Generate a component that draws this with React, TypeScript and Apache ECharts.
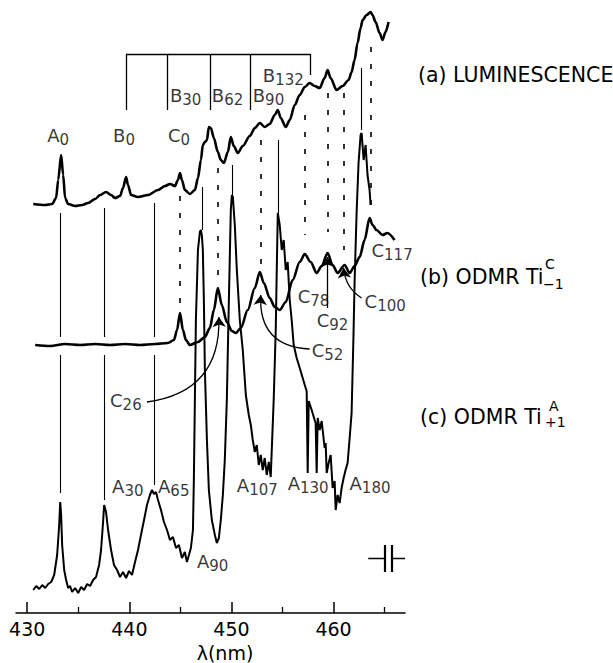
import React, { useEffect, useRef } from "react";
import * as echarts from "echarts";

// wavelength (nm) vs. signal (arbitrary units, offset traces)
const luminescence: [number, number][] = [
  [430.59, 409], [431.76, 408], [432.44, 409], [432.83, 415], [433.03, 433], [433.32, 458], [433.52, 438],
  [433.71, 415], [434.01, 409], [434.69, 407], [435.38, 408], [435.96, 410], [436.65, 414], [437.14, 418],
  [437.72, 421], [438.21, 418], [438.6, 415], [439.09, 417], [439.38, 425], [439.68, 436], [439.87, 428],
  [440.17, 418], [440.85, 416], [441.83, 418], [442.81, 423], [443.49, 427], [443.98, 429], [444.47, 427],
  [444.76, 433], [444.96, 440], [445.15, 433], [445.44, 423], [445.93, 419], [446.42, 423], [446.72, 435],
  [447.01, 453], [447.2, 468], [447.4, 471], [447.6, 473], [447.79, 486], [447.99, 485], [448.28, 475],
  [448.67, 461], [448.96, 453], [449.26, 450], [449.65, 461], [449.94, 476], [450.23, 467], [450.63, 460],
  [451.11, 467], [451.8, 477], [452.29, 485], [452.78, 490], [453.26, 486], [453.75, 489], [454.24, 498],
  [454.54, 503], [454.83, 495], [455.32, 486], [455.71, 493], [456.2, 508], [456.69, 518], [457.18, 526],
  [457.66, 530], [458.15, 527], [458.64, 525], [459.13, 535], [459.42, 543], [459.71, 535], [460.3, 523],
  [460.89, 527], [461.48, 533], [461.77, 541], [462.06, 553], [462.35, 570], [462.65, 585], [462.85, 593],
  [463.24, 598], [463.63, 601], [463.82, 598], [464.12, 591], [464.51, 580], [464.8, 573], [465.09, 581],
  [465.39, 591],
];

const odmrTiC: [number, number][] = [
  [430.78, 268], [432.25, 267], [433.71, 269], [435.18, 268], [436.65, 269], [438.11, 268], [439.58, 269],
  [441.05, 268], [442.51, 269], [443.78, 270], [444.37, 273], [444.67, 283], [444.96, 300], [445.25, 283],
  [445.54, 273], [445.93, 268], [446.72, 271], [447.4, 276], [447.89, 285], [448.28, 303], [448.67, 325],
  [449.06, 308], [449.55, 291], [450.04, 282], [450.43, 280], [450.92, 285], [451.6, 303], [452.29, 325],
  [452.78, 341], [453.17, 330], [453.75, 315], [454.24, 306], [454.73, 303], [455.32, 311], [456.0, 333],
  [456.69, 351], [457.18, 359], [457.76, 351], [458.35, 340], [458.84, 347], [459.42, 360], [459.91, 348],
  [460.4, 340], [461.09, 348], [461.58, 340], [462.06, 347], [462.56, 356], [463.04, 373], [463.53, 395],
  [463.82, 388], [464.21, 383], [464.8, 378], [465.29, 380], [465.97, 373],
];

const odmrTiA: [number, number][] = [
  [430.59, 23], [430.88, 27], [431.17, 24], [431.47, 28], [431.76, 25], [432.05, 29], [432.35, 31],
  [432.64, 38], [432.93, 58], [433.13, 88], [433.23, 111], [433.32, 98], [433.42, 68], [433.62, 43],
  [433.81, 33], [434.01, 25], [434.2, 27], [434.4, 21], [434.69, 25], [434.99, 20], [435.28, 26],
  [435.57, 23], [435.87, 29], [436.16, 27], [436.45, 33], [436.74, 36], [437.04, 48], [437.23, 63],
  [437.43, 91], [437.53, 108], [437.72, 101], [437.92, 83], [438.21, 63], [438.5, 48], [438.8, 43],
  [439.09, 36], [439.38, 41], [439.68, 35], [439.97, 42], [440.26, 38], [440.56, 51], [440.85, 63],
  [441.14, 78], [441.44, 93], [441.73, 108], [442.02, 118], [442.22, 123], [442.41, 119], [442.61, 121],
  [442.81, 113], [443.1, 103], [443.39, 91], [443.69, 83], [443.98, 73], [444.27, 76], [444.57, 65],
  [444.86, 68], [445.15, 55], [445.44, 61], [445.64, 51], [445.84, 58], [446.03, 65], [446.23, 83],
  [446.32, 133], [446.42, 213], [446.52, 293], [446.72, 363], [446.91, 381], [447.01, 383], [447.11, 377],
  [447.2, 363], [447.3, 313], [447.4, 243], [447.6, 173], [447.79, 123], [448.08, 93], [448.38, 78],
  [448.57, 70], [448.77, 75], [448.96, 93], [449.16, 118], [449.35, 153], [449.55, 213], [449.75, 313],
  [449.94, 403], [450.04, 418], [450.14, 416], [450.33, 388], [450.53, 343], [450.82, 293], [451.11, 263],
  [451.41, 218], [451.7, 198], [451.9, 188], [452.09, 173], [452.29, 161], [452.48, 168], [452.68, 148],
  [452.87, 158], [453.07, 143], [453.26, 155], [453.46, 138], [453.66, 151], [453.85, 136], [453.95, 163],
  [454.14, 213], [454.34, 283], [454.44, 343], [454.54, 400], [454.73, 388], [454.93, 363], [455.12, 373],
  [455.32, 343], [455.51, 351], [455.71, 313], [455.9, 293], [456.1, 268], [456.39, 255], [456.69, 245],
  [456.98, 235], [457.27, 225], [457.37, 222], [457.47, 140], [457.57, 212], [457.86, 203], [458.15, 193],
  [458.25, 190], [458.35, 140], [458.45, 195], [458.64, 183], [458.84, 192], [459.13, 165], [459.23, 170],
  [459.33, 140], [459.52, 150], [459.72, 158], [459.91, 125], [460.11, 132], [460.21, 103], [460.4, 118],
  [460.6, 110], [460.79, 125], [460.99, 135], [461.18, 143], [461.38, 150], [461.58, 175], [461.77, 200],
  [461.96, 280], [462.06, 330], [462.26, 400], [462.45, 450], [462.65, 478], [462.75, 480], [462.95, 453],
  [463.14, 468], [463.33, 438], [463.53, 423], [463.63, 408],
];

// x-axis ticks
const majorTicks = [430, 440, 450, 460];
const minorTicks = [435, 445, 455, 465];

// vertical guide lines: [wavelength, from, to]
const solidGuides: [number, number, number][] = [
  [433.28, 400, 276], [433.28, 258, 120],
  [437.53, 405, 276], [437.53, 258, 113],
  [442.41, 410, 276], [442.41, 258, 128],
  [447.11, 426, 383], [450.04, 448, 418], [454.54, 473, 400], [462.75, 545, 483],
];
const dashedGuides: [number, number, number][] = [
  [444.96, 417, 303], [448.67, 445, 330], [452.87, 473, 345], [457.18, 498, 378],
  [459.42, 520, 381], [460.99, 520, 363], [463.63, 566, 408],
];

// B-series bracket
const bracketLevel = 559;
const bracketTicks: [number, number][] = [
  [439.68, 503], [443.69, 503], [447.89, 503], [451.8, 503], [457.76, 538],
];

// peak labels: [letter, subscript, wavelength, level]
const peakLabels: [string, string, number, number][] = [
  ["A", "0", 431.96, 478], ["B", "0", 438.41, 478], ["C", "0", 443.78, 478],
  ["B", "30", 443.98, 518], ["B", "62", 448.08, 518], ["B", "90", 452.09, 518], ["B", "132", 453.07, 538],
  ["A", "30", 438.31, 127], ["A", "65", 442.81, 127], ["A", "90", 446.62, 52], ["A", "107", 450.53, 128],
  ["A", "130", 455.51, 130], ["A", "180", 461.57, 130],
  ["C", "26", 438.11, 213], ["C", "52", 457.86, 263], ["C", "78", 456.49, 317], ["C", "92", 458.35, 293],
  ["C", "100", 463.04, 312], ["C", "117", 463.72, 363],
];

// arrows: [fromX, fromY, toX, toY, curveness]
const arrows: [number, number, number, number, number][] = [
  [441.73, 211, 448.77, 296, -0.45],
  [457.66, 264, 452.87, 318, 0.5],
  [459.42, 305, 459.42, 356, 0],
  [462.75, 315, 460.99, 345, 0.25],
];

// resolution marker
const resolutionBar = { left: 463.4, gapL: 465.0, gapR: 465.7, right: 467.0, level: 55, lo: 41, hi: 68 };

const FONT = "DejaVu Sans";

export default function App() {
  const ref = useRef<HTMLDivElement>(null);
  useEffect(() => {
    const chart = echarts.init(ref.current!, null, { renderer: "svg" });
    const vLine = (g: [number, number, number]) => ({ coords: [[g[0], g[1]], [g[0], g[2]]] });
    const txt = (text: string, x: number, y: number, size: number, align = "left") => ({
      type: "text", x, y,
      style: { text, font: `${size}px '${FONT}'`, fill: "#000", verticalAlign: "middle", align },
    });
    const option: any = {
      animation: false,
      backgroundColor: "#fff",
      grid: { left: 16, right: 208, top: 0, bottom: 50, containLabel: false },
      xAxis: [
        {
          type: "value", min: 428.9, max: 467, position: "bottom",
          axisLine: { show: true, lineStyle: { color: "#000", width: 1.5 } },
          axisTick: { show: true, inside: true, length: 11, customValues: majorTicks, lineStyle: { color: "#000", width: 1.5 } },
          axisLabel: { show: true, customValues: majorTicks, fontSize: 19, color: "#000", fontFamily: FONT, margin: 6 },
          splitLine: { show: false },
        },
        {
          type: "value", min: 428.9, max: 467, position: "bottom",
          axisLine: { show: false },
          axisTick: { show: true, inside: true, length: 6, customValues: minorTicks, lineStyle: { color: "#000", width: 1.3 } },
          axisLabel: { show: false },
          splitLine: { show: false },
        },
      ],
      yAxis: { type: "value", min: 0, max: 613, show: false },
      series: [
        {
          type: "lines", coordinateSystem: "cartesian2d", silent: true, z: 1,
          lineStyle: { color: "#000", width: 1.1, opacity: 1 },
          data: solidGuides.map(vLine),
        },
        {
          type: "lines", coordinateSystem: "cartesian2d", silent: true, z: 1,
          lineStyle: { color: "#000", width: 1.6, type: [5, 12], opacity: 1 },
          data: dashedGuides.map(vLine),
        },
        {
          type: "lines", coordinateSystem: "cartesian2d", silent: true, z: 1,
          lineStyle: { color: "#000", width: 1.3, opacity: 1 },
          data: [
            { coords: [[bracketTicks[0][0], bracketLevel], [bracketTicks[bracketTicks.length - 1][0], bracketLevel]] },
            ...bracketTicks.map((t) => ({ coords: [[t[0], bracketLevel], [t[0], t[1]]] })),
            { coords: [[resolutionBar.left, resolutionBar.level], [resolutionBar.gapL, resolutionBar.level]] },
            { coords: [[resolutionBar.gapR, resolutionBar.level], [resolutionBar.right, resolutionBar.level]] },
            { coords: [[resolutionBar.gapL, resolutionBar.lo], [resolutionBar.gapL, resolutionBar.hi]], lineStyle: { width: 2.2 } },
            { coords: [[resolutionBar.gapR, resolutionBar.lo], [resolutionBar.gapR, resolutionBar.hi]], lineStyle: { width: 2.2 } },
          ],
        },
        {
          type: "lines", coordinateSystem: "cartesian2d", silent: true, z: 3,
          symbol: ["none", "arrow"], symbolSize: [7, 10],
          lineStyle: { color: "#000", width: 1.3, opacity: 1 },
          data: arrows.map((a) => ({ coords: [[a[0], a[1]], [a[2], a[3]]], lineStyle: { curveness: a[4] } })),
        },
        {
          type: "line", data: luminescence, showSymbol: false, smooth: 0.3, smoothMonotone: "x", z: 2,
          lineStyle: { color: "#000", width: 2.6 }, silent: true,
        },
        {
          type: "line", data: odmrTiC, showSymbol: false, smooth: 0.3, smoothMonotone: "x", z: 2,
          lineStyle: { color: "#000", width: 2.6 }, silent: true,
        },
        {
          type: "line", data: odmrTiA, showSymbol: false, smooth: false, z: 2,
          lineStyle: { color: "#000", width: 2 }, silent: true,
        },
        {
          type: "scatter", symbolSize: 0, silent: true, z: 4,
          data: peakLabels.map((p) => ({ value: [p[2], p[3]], label: { formatter: `{m|${p[0]}}{s|${p[1]}}` } })),
          label: {
            show: true, position: "right", distance: 0, color: "#000",
            rich: {
              m: { fontSize: 18, lineHeight: 20, fontFamily: FONT, color: "#000" },
              s: { fontSize: 15, lineHeight: 20, fontFamily: FONT, color: "#000", padding: [10, 0, 0, 0] },
            },
          },
        },
      ],
      graphic: [
        txt("(a) LUMINESCENCE", 418, 75, 20.5),
        txt("(b) ODMR Ti", 420, 277, 20.5),
        txt("C", 545, 264, 14),
        txt("−1", 543, 284, 14),
        txt("(c) ODMR Ti", 420, 417, 20.5),
        txt("A", 549, 406, 14),
        txt("+1", 545, 422, 14),
        txt("λ(nm)", 225, 653, 19, "center"),
      ],
    };
    chart.setOption(option);
    return () => chart.dispose();
  }, []);
  return <div ref={ref} style={{ position: "absolute", left: 0, top: 0, width: 613, height: 663 }} />;
}
